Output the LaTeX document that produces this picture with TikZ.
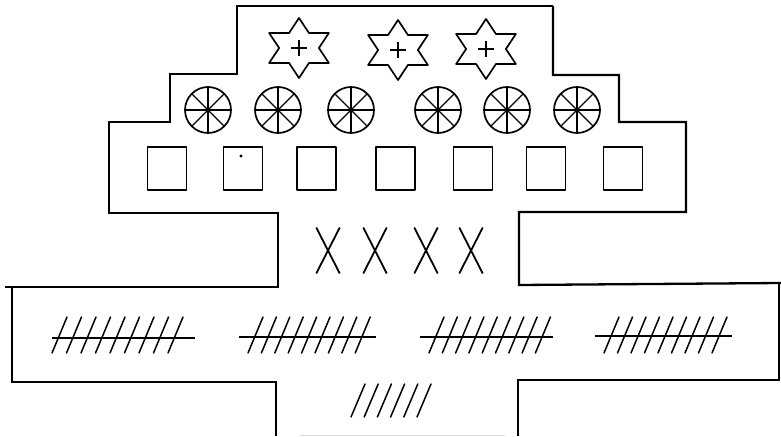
\documentclass[tikz,border=0pt]{standalone}
\begin{document}
\begin{tikzpicture}[x=1pt,y=-1pt,
  outline/.style={line width=2.3pt, line join=miter},
  figline/.style={line width=1.7pt, line join=round},
  tickline/.style={line width=1.5pt, line cap=round},
  xline/.style={line width=1.8pt, line cap=round}]
\useasboundingbox (0,0) rectangle (781,436);
% outline, left half
\draw[outline] (553,6) -- (237,6) -- (237,74) -- (170,74) -- (170,122) -- (109,122)
  -- (109,213) -- (278,213) -- (278,287) -- (5,287);
\draw[outline] (12,287) -- (12,382) -- (276,382) -- (276,436);
% outline, right half
\draw[outline] (553,6) -- (553,75) -- (619,75) -- (619,122) -- (686,122) -- (686,212)
  -- (519,212) -- (519,285) -- (781,283);
\draw[outline] (779,283) -- (779,380) -- (518,380) -- (518,436);
\draw[gray!25, line width=1pt] (300,435) -- (505,435);
% stars
\foreach \cx/\cy in {299/48, 398/50, 486/49} {
  \begin{scope}[shift={(\cx,\cy)}]
    \begin{scope}[xscale=1.15]
      \draw[figline] (90:30) -- (120:17.3) -- (150:30) -- (180:17.3) -- (210:30) -- (240:17.3)
        -- (270:30) -- (300:17.3) -- (330:30) -- (0:17.3) -- (30:30) -- (60:17.3) -- cycle;
    \end{scope}
    \draw[line width=1.4pt] (-8,0) -- (8,0) (0,-8) -- (0,8);
  \end{scope}
}
% wheels
\foreach \cx in {208, 278, 351, 438, 507, 577} {
  \begin{scope}[shift={(\cx,110)}]
    \draw[figline] (0,0) circle[radius=23pt];
    \foreach \a in {0,45,90,135} \draw[line width=1.4pt] (\a:23) -- (\a+180:23);
  \end{scope}
}
% squares
\foreach \cx in {167, 243, 316.5, 395.5, 473, 546, 623} {
  \draw[figline] (\cx-19.5,147) rectangle (\cx+19.5,190);
}
\fill (241,156) circle[radius=1.7pt];
% crosses
\foreach \cx in {328, 375, 426, 471} {
  \draw[xline] (\cx-11.5,228) -- (\cx+11.5,273) (\cx+11.5,228) -- (\cx-11.5,273);
}
% hatch groups
\foreach \xa/\xb/\xf/\sp/\yl in {52/195/52/14.5/338, 239/376/248/13.4/337, 420/553/429/13.3/337, 595/732/604/13.5/336} {
  \draw[line width=1.9pt] (\xa,\yl) -- (\xb,\yl);
  \foreach \i in {0,...,8} \draw[tickline] (\xf+\i*\sp,353) -- (\xf+\i*\sp+15,317);
}
\foreach \i in {0,...,5} \draw[tickline] (351+\i*13.2,417) -- (351+\i*13.2+14,384);
\end{tikzpicture}
\end{document}
